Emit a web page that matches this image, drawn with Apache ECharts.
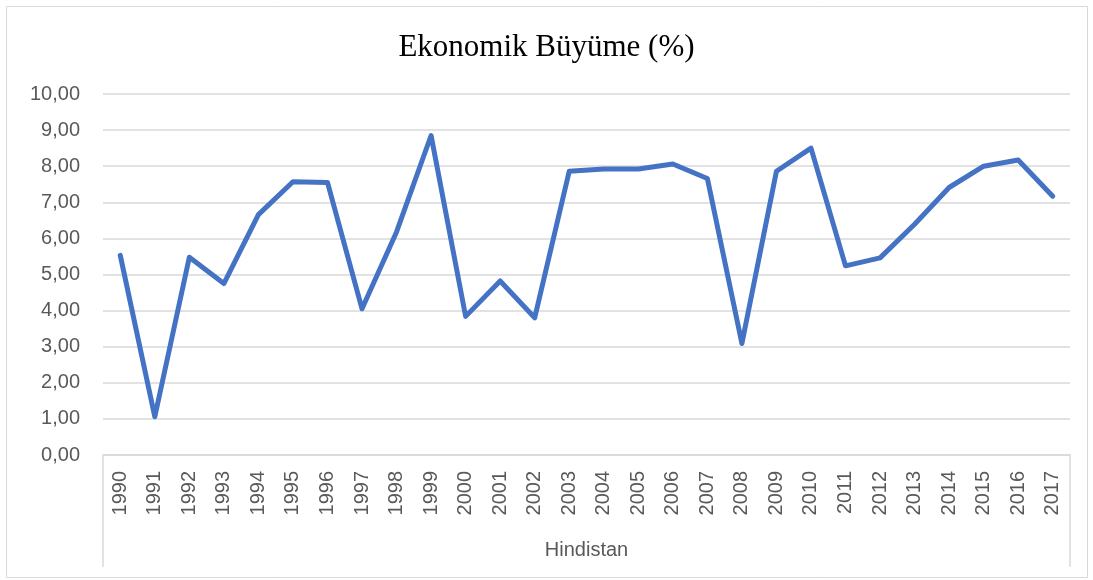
<!DOCTYPE html>
<html><head><meta charset="utf-8">
<script src="https://cdn.jsdelivr.net/npm/echarts@6/dist/echarts.min.js"></script>
<style>html,body{margin:0;padding:0;background:#fff}#c{width:1093px;height:580px}</style>
</head><body><div id="c"></div>
<script>
const titleText = 'Ekonomik Büyüme (%)';
const groupLabel = ['Hindistan'];
const years = ['1990','1991','1992','1993','1994','1995','1996','1997','1998','1999','2000','2001','2002','2003','2004','2005','2006','2007','2008','2009','2010','2011','2012','2013','2014','2015','2016','2017'];
const growth = [5.53,1.06,5.48,4.75,6.66,7.57,7.55,4.05,6.18,8.85,3.84,4.82,3.80,7.86,7.92,7.92,8.06,7.66,3.09,7.86,8.50,5.24,5.46,6.39,7.41,8.00,8.17,7.17];

const chart = echarts.init(document.getElementById('c'));
chart.setOption({
  animation: false,
  backgroundColor: '#fff',
  graphic: [{type:'rect', shape:{x:6.5,y:6.5,width:1081,height:571}, style:{fill:'none', stroke:'#d9d9d9', lineWidth:1}, silent:true}],
  title: {text: titleText, left: 'center', top: 27, textStyle:{fontFamily:'Liberation Serif', fontWeight:'normal', fontSize:31, color:'#000'}},
  grid: {left: 103, right: 23, top: 94, bottom: 125},
  xAxis: [{
    type: 'category', data: years, boundaryGap: true, position: 'bottom',
    axisLine: {lineStyle: {color: '#d9d9d9', width: 1.5}},
    axisTick: {show: false},
    axisLabel: {rotate: 90, margin: 16, color: '#595959', fontFamily: 'Liberation Sans', fontSize: 20, interval: 0}
  },{
    type: 'category', data: groupLabel, boundaryGap: true, position: 'bottom',
    axisLine: {show: false},
    axisTick: {show: true, length: 112, lineStyle: {color: '#d9d9d9', width: 1.5}},
    axisLabel: {margin: 85, color: '#595959', fontFamily: 'Liberation Sans', fontSize: 20}
  }],
  yAxis: {
    type: 'value', min: 0, max: 10, interval: 1,
    axisLine: {show: false}, axisTick: {show: false},
    splitLine: {lineStyle: {color: '#d9d9d9', width: 1.5}},
    axisLabel: {margin: 23, color: '#595959', fontFamily: 'Liberation Sans', fontSize: 20,
      formatter: v => v.toFixed(2).replace('.', ',')}
  },
  series: [{
    type: 'line', data: growth, xAxisIndex: 0, showSymbol: false, symbol: 'none',
    lineStyle: {color: '#4472c4', width: 5, cap: 'round', join: 'round'}
  }]
});
</script></body></html>
